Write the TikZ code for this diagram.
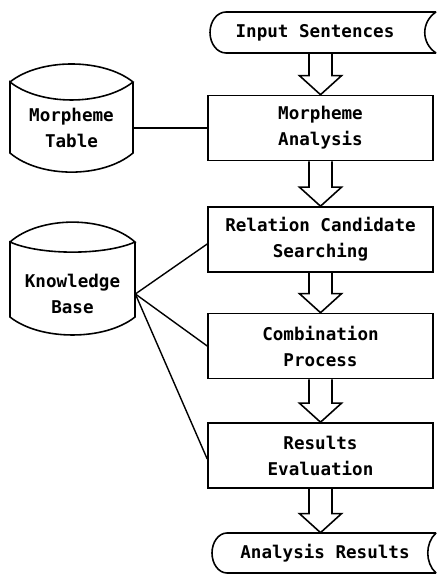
\documentclass[tikz,border=0pt]{standalone}
\usepackage{fontspec}
\setmonofont{DejaVu Sans Mono}
\usetikzlibrary{calc}

\tikzset{
  txt/.style={font=\ttfamily\bfseries\fontsize{10}{14.8}\selectfont, align=center, inner sep=0pt},
  proc/.style={txt, draw, line width=.9pt, minimum width=4.5cm, minimum height=1.3cm},
  edge/.style={line width=.8pt},
}

\begin{document}
\begin{tikzpicture}
\useasboundingbox (0,0) rectangle (8.72,11.5);
% text of the two end terminals and the two stores
\node (ins) [txt, minimum height=.82cm] at (6.3,10.85) {Input Sentences};
\node (ares) [txt, minimum height=.8cm] at (6.5,.44) {Analysis Results};
\node (mtab) [txt, minimum width=2.46cm] at (1.43,8.94) {Morpheme\\Table};
\node (kb) [txt, minimum width=2.5cm] at (1.45,5.62) {Knowledge\\Base};
% processing steps
\node (mta) [proc] at (6.41,8.94) {Morpheme\\Analysis};
\node (rcs) [proc] at (6.41,6.71) {Relation Candidate\\Searching};
\node (cmb) [proc] at (6.41,4.58) {Combination\\Process};
\node (rev) [proc] at (6.41,2.39) {Results\\Evaluation};
% terminals, cut at the right edge
\draw[line width=.9pt] (8.72,11.26) -- (4.52,11.26)
    arc[start angle=90, end angle=270, x radius=.32, y radius=.41] -- (8.72,10.44);
\draw[line width=.9pt] (8.72,11.26) .. controls (8.42,11.06) and (8.42,10.64) .. (8.72,10.44);
\draw[line width=.9pt] (8.72,.84) -- (4.54,.84)
    arc[start angle=90, end angle=270, x radius=.3, y radius=.4] -- (8.72,.04);
\draw[line width=.9pt] (8.72,.84) .. controls (8.5,.64) and (8.5,.24) .. (8.72,.04);
% stores
\draw[line width=.9pt] (0.2,9.86) .. controls (0.8,10.34) and (2.06,10.34) .. (2.66,9.86)
    .. controls (2.06,9.38) and (0.8,9.38) .. (0.2,9.86) -- (0.2,8.44)
    .. controls (0.8,7.93) and (2.06,7.93) .. (2.66,8.44) -- (2.66,9.86);
\draw[line width=.9pt] (0.2,6.66) .. controls (0.8,7.19) and (2.1,7.19) .. (2.7,6.66)
    .. controls (2.1,6.39) and (0.8,6.39) .. (0.2,6.66) -- (0.2,5.16)
    .. controls (0.8,4.68) and (2.1,4.68) .. (2.7,5.16) -- (2.7,6.66);
% hollow flow arrows
\foreach \s/\e in {ins.south -| mta.north/mta.north, mta.south/rcs.north,
    rcs.south/cmb.north, cmb.south/rev.north, rev.south/ares.north -| rev.south}
  \draw[line width=.9pt] ($(\s)+(-.23,0)$) |- ($(\e)+(-.42,.38)$) -- (\e)
    -- ($(\e)+(.42,.38)$) -| ($(\s)+(.23,0)$);
% store links
\draw[edge] (mtab.east) -- (mtab.east -| mta.west);
\draw[edge] (kb.east) -- ([yshift=-.09cm]rcs.west);
\draw[edge] (kb.east) -- (cmb.west);
\draw[edge] (kb.east) -- ([yshift=-.07cm]rev.west);
\end{tikzpicture}
\end{document}
